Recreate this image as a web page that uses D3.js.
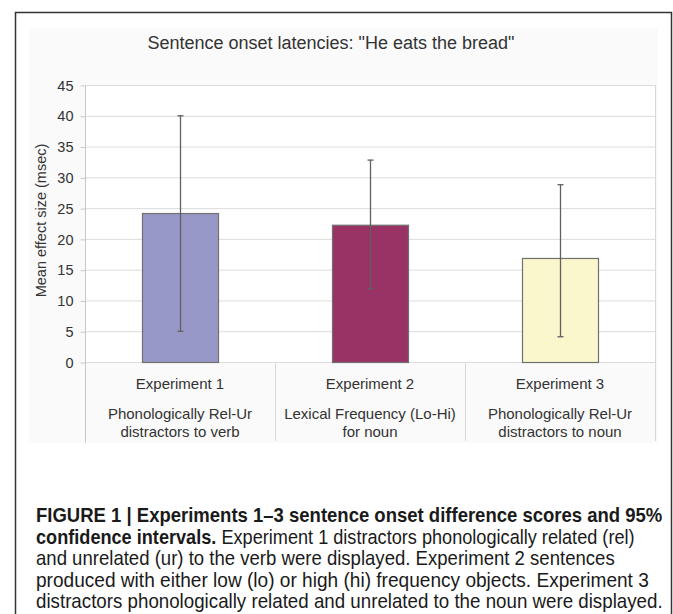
<!DOCTYPE html>
<html>
<head>
<meta charset="utf-8">
<script src="https://cdn.jsdelivr.net/npm/d3@7"></script>
<style>
  body { margin: 0; background: #fff; }
  svg { display: block; }
</style>
</head>
<body>
<div id="chart"></div>
<script>
// Values
const experiments = ['Experiment 1', 'Experiment 2', 'Experiment 3'];
const conditions = [
    ['Phonologically Rel-Ur', 'distractors to verb'],
    ['Lexical Frequency (Lo-Hi)', 'for noun'],
    ['Phonologically Rel-Ur', 'distractors to noun']
];
const meanEffect = [24.2, 22.3, 16.9];
const ciLow = [5.0, 11.9, 4.1];
const ciHigh = [40.0, 32.8, 28.8];
const yTicks = [0, 5, 10, 15, 20, 25, 30, 35, 40, 45];

const title = 'Sentence onset latencies: "He eats the bread"';
const yTitle = 'Mean effect size (msec)';
const captionLines = [
    [{ t: 'FIGURE 1 | Experiments 1\u20133 sentence onset difference scores and 95%', b: true }],
    [{ t: 'confidence intervals.', b: true }, { t: ' Experiment 1 distractors phonologically related (rel)', b: false }],
    [{ t: 'and unrelated (ur) to the verb were displayed. Experiment 2 sentences', b: false }],
    [{ t: 'produced with either low (lo) or high (hi) frequency objects. Experiment 3', b: false }],
    [{ t: 'distractors phonologically related and unrelated to the noun were displayed.', b: false }]
];

const width = 673;
const height = 614;
const plot = { left: 85, right: 655, top: 85, bottom: 362 };

const svg = d3.select('#chart')
    .append('svg')
    .attr('width', width)
    .attr('height', height)
    .style('font-family', 'Arial, "Liberation Sans", sans-serif');

// outer frame (open at the bottom like the cropped figure)
svg.append('path')
    .attr('d', 'M15.5,' + height + ' V12.5 H671.5 V' + height)
    .attr('fill', 'none')
    .attr('stroke', '#333')
    .attr('stroke-width', 1.5);

// chart area background
svg.append('rect')
    .attr('x', 29).attr('y', 28)
    .attr('width', 629).attr('height', 415)
    .attr('fill', '#fafafa');

svg.append('rect')
    .attr('x', plot.left).attr('y', plot.top)
    .attr('width', plot.right - plot.left).attr('height', plot.bottom - plot.top)
    .attr('fill', '#fff');

const x = d3.scaleBand()
    .domain(experiments)
    .range([plot.left, plot.right])
    .padding(0);

const y = d3.scaleLinear()
    .domain([0, 45])
    .range([plot.bottom, plot.top]);

const colour = d3.scaleOrdinal()
    .domain(experiments)
    .range(['#9898c8', '#993366', '#faf7cc']);

// gridlines
svg.append('g')
    .selectAll('line')
    .data(yTicks)
    .enter()
    .append('line')
    .attr('x1', plot.left).attr('x2', plot.right)
    .attr('y1', d => y(d) + 0.5).attr('y2', d => y(d) + 0.5)
    .attr('stroke', '#dcdcdc')
    .attr('stroke-width', 1);

// y axis
const yAxis = svg.append('g')
    .attr('transform', 'translate(' + (plot.left + 0.5) + ',0.5)')
    .call(d3.axisLeft(y).tickValues(yTicks).tickSize(5).tickPadding(7));
yAxis.select('.domain').attr('stroke', '#c8c8c8').attr('d', 'M0,' + plot.top + 'V442');
yAxis.selectAll('.tick line').attr('stroke', '#c8c8c8');
yAxis.selectAll('.tick text')
    .attr('fill', '#333')
    .style('font-size', '14.5px')
    .style('font-family', 'Arial, "Liberation Sans", sans-serif');

// category dividers and right edge
svg.append('g')
    .selectAll('line')
    .data(experiments)
    .enter()
    .append('line')
    .attr('x1', d => x(d) + x.bandwidth() + 0.5)
    .attr('x2', d => x(d) + x.bandwidth() + 0.5)
    .attr('y1', (d, i) => i === experiments.length - 1 ? plot.top : plot.bottom)
    .attr('y2', 441)
    .attr('stroke', '#d8d8d8');

// bars
const barW = x.bandwidth() * 0.4;
svg.append('g')
    .selectAll('rect')
    .data(experiments)
    .enter()
    .append('rect')
    .attr('x', d => x(d) + (x.bandwidth() - barW) / 2 + 0.5)
    .attr('y', (d, i) => y(meanEffect[i]) + 0.5)
    .attr('width', barW)
    .attr('height', (d, i) => y(0) - y(meanEffect[i]))
    .attr('fill', d => colour(d))
    .attr('stroke', '#707070')
    .attr('stroke-width', 1.2);

// 95% confidence intervals
const err = svg.append('g')
    .attr('stroke', '#606060')
    .attr('stroke-width', 1.3);
experiments.forEach((d, i) => {
    const cx = x(d) + x.bandwidth() / 2 + 0.5;
    err.append('line')
        .attr('x1', cx).attr('x2', cx)
        .attr('y1', y(ciHigh[i])).attr('y2', y(ciLow[i]));
    [ciHigh[i], ciLow[i]].forEach(v => {
        err.append('line')
            .attr('x1', cx - 3).attr('x2', cx + 3)
            .attr('y1', y(v)).attr('y2', y(v));
    });
});

// category labels
const cat = svg.append('g')
    .attr('fill', '#333')
    .style('font-size', '15px')
    .attr('text-anchor', 'middle');
experiments.forEach((d, i) => {
    const cx = x(d) + x.bandwidth() / 2;
    cat.append('text').attr('x', cx).attr('y', 389).text(d);
    conditions[i].forEach((line, j) => {
        cat.append('text').attr('x', cx).attr('y', 419 + j * 18).text(line);
    });
});

// titles
svg.append('text')
    .attr('x', 331).attr('y', 49)
    .attr('text-anchor', 'middle')
    .attr('fill', '#333')
    .style('font-size', '18px')
    .text(title);

svg.append('text')
    .attr('transform', 'translate(46,' + ((plot.top + plot.bottom) / 2 - 3) + ') rotate(-90)')
    .attr('text-anchor', 'middle')
    .attr('fill', '#333')
    .style('font-size', '14.5px')
    .text(yTitle);

// figure caption: condensed face imitated by squeezing Arial horizontally
const capWidths = [627, 599, 579, 613, 627];
const cap = svg.append('g')
    .attr('fill', '#1a1a1a')
    .style('font-family', 'Arial, "Liberation Sans", sans-serif')
    .style('font-size', '20.5px');
captionLines.forEach((parts, i) => {
    const t = cap.append('text');
    parts.forEach(p => {
        t.append('tspan')
            .attr('font-weight', p.b ? 'bold' : 'normal')
            .text(p.t);
    });
    const natural = t.node().getComputedTextLength();
    t.attr('transform', 'translate(36,' + (522 + i * 21.5) + ') scale(' + (capWidths[i] / natural) + ',1)');
});
</script>
</body>
</html>
